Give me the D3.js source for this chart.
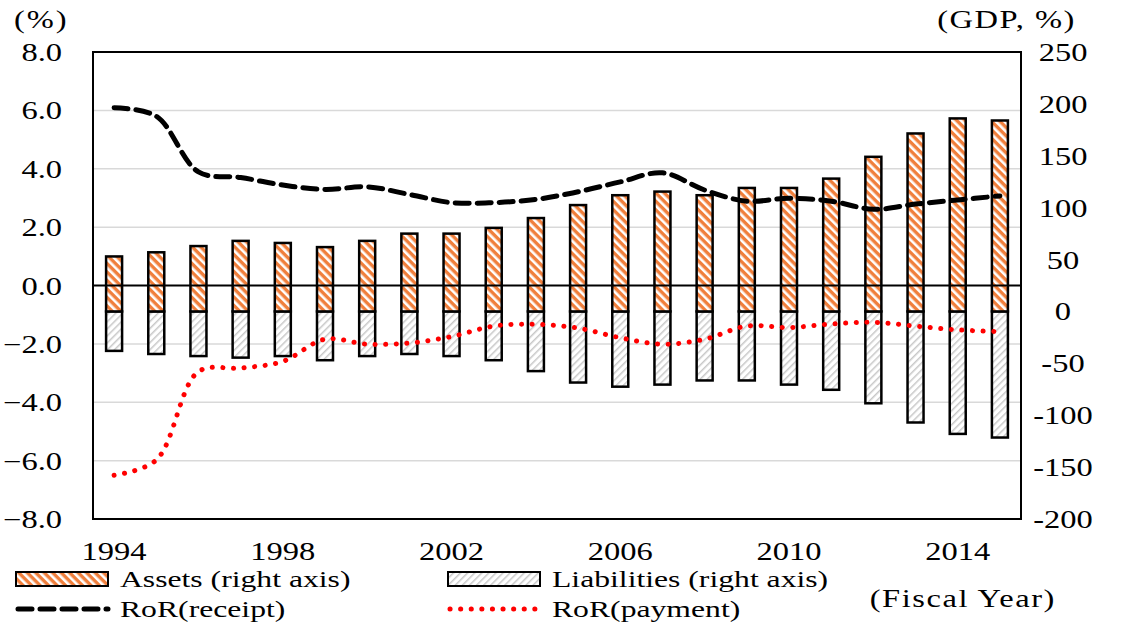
<!DOCTYPE html>
<html>
<head>
<meta charset="utf-8">
<script src="https://cdn.jsdelivr.net/npm/d3@7"></script>
<style>
  body { margin: 0; background: #fff; }
  svg text { font-family: "Liberation Serif", "Times New Roman", serif; fill: #000; }
</style>
</head>
<body>
<div id="chart"></div>
<script>
const years = d3.range(1994, 2016);
const yearTicks = [1994, 1998, 2002, 2006, 2010, 2014];

// right axis, % of GDP
const assets = [53, 57, 63, 68, 66, 62, 68, 75, 75, 80.5, 90, 102.5, 112, 115.5, 112, 119, 119, 128, 149, 171.5, 186, 184];
const liabilities = [-38, -41, -43, -44.5, -43, -47, -43, -41, -43, -47, -57.5, -68.5, -72.5, -70.5, -66.5, -66.5, -70.5, -75.5, -88.5, -107, -118, -121.5];

// left axis, %
const rorReceipt = [6.09, 5.8, 3.89, 3.7, 3.44, 3.29, 3.38, 3.12, 2.84, 2.84, 2.95, 3.21, 3.55, 3.86, 3.27, 2.89, 2.99, 2.89, 2.61, 2.79, 2.93, 3.07];
const rorPayment = [-6.5, -5.98, -2.95, -2.83, -2.6, -1.84, -2.01, -1.97, -1.75, -1.39, -1.33, -1.46, -1.79, -2.01, -1.84, -1.39, -1.44, -1.32, -1.26, -1.39, -1.52, -1.58];

const leftTicks = d3.range(-8, 8.1, 2);
const rightTicks = d3.range(-200, 251, 50);

const W = 1127, H = 622;
const margin = { top: 52, right: 106, bottom: 103, left: 93 };
const width = W - margin.left - margin.right,
      height = H - margin.top - margin.bottom;

// the reference type is stretched sideways
const SX = 1.3;

const svg = d3.select("#chart")
    .append("svg")
    .attr("width", W)
    .attr("height", H);

function label(parent, x, y, txt, anchor, size, sx, spacing) {
    return parent.append("text")
        .attr("transform", `translate(${x},${y}) scale(${sx || SX},1)`)
        .attr("text-anchor", anchor || "start")
        .attr("font-size", size || 24)
        .attr("letter-spacing", spacing || 0)
        .text(txt);
}

const defs = svg.append("defs");
const pa = defs.append("pattern")
    .attr("id", "assetsPat")
    .attr("patternUnits", "userSpaceOnUse")
    .attr("width", 6).attr("height", 6)
    .attr("patternTransform", "rotate(45)");
pa.append("rect").attr("width", 6).attr("height", 6).attr("fill", "#fff");
pa.append("rect").attr("width", 6).attr("height", 3.4).attr("fill", "#f07f3c");

const pl = defs.append("pattern")
    .attr("id", "liabPat")
    .attr("patternUnits", "userSpaceOnUse")
    .attr("width", 5).attr("height", 5)
    .attr("patternTransform", "rotate(-45)");
pl.append("rect").attr("width", 5).attr("height", 5).attr("fill", "#fff");
pl.append("rect").attr("width", 5).attr("height", 1.5).attr("fill", "#c8c8c8");

const g = svg.append("g")
    .attr("transform", `translate(${margin.left},${margin.top})`);

const x = d3.scaleBand()
    .domain(years)
    .range([0, width]);

const yL = d3.scaleLinear().domain([-8, 8]).range([height, 0]);
const yR = d3.scaleLinear().domain([-200, 250]).range([height, 0]);

// gridlines
g.append("g")
    .selectAll("line")
    .data(leftTicks.filter(d => d !== 0 && d !== 8 && d !== -8))
    .join("line")
    .attr("x1", 0).attr("x2", width)
    .attr("y1", d => yL(d)).attr("y2", d => yL(d))
    .attr("stroke", "#d9d9d9")
    .attr("stroke-width", 1.5);

const barW = 16;

g.append("g")
    .selectAll("rect")
    .data(years)
    .join("rect")
    .attr("x", d => x(d) + x.bandwidth() / 2 - barW / 2)
    .attr("width", barW)
    .attr("y", yR(0))
    .attr("height", (d, i) => yR(liabilities[i]) - yR(0))
    .attr("fill", "url(#liabPat)")
    .attr("stroke", "#000")
    .attr("stroke-width", 2.5);

g.append("g")
    .selectAll("rect")
    .data(years)
    .join("rect")
    .attr("x", d => x(d) + x.bandwidth() / 2 - barW / 2)
    .attr("width", barW)
    .attr("y", (d, i) => yR(assets[i]))
    .attr("height", (d, i) => yR(0) - yR(assets[i]))
    .attr("fill", "url(#assetsPat)")
    .attr("stroke", "#000")
    .attr("stroke-width", 2.5);

// zero line of left axis
g.append("line")
    .attr("x1", 0).attr("x2", width)
    .attr("y1", yL(0)).attr("y2", yL(0))
    .attr("stroke", "#000")
    .attr("stroke-width", 1.8);

const line = d3.line()
    .x((d, i) => x(years[i]) + x.bandwidth() / 2)
    .y(d => yL(d))
    .curve(d3.curveCatmullRom.alpha(0.5));

g.append("path")
    .datum(rorReceipt)
    .attr("fill", "none")
    .attr("stroke", "#000")
    .attr("stroke-width", 5)
    .attr("stroke-dasharray", "14 8")
    .attr("stroke-linecap", "round")
    .attr("d", line);

g.append("path")
    .datum(rorPayment)
    .attr("fill", "none")
    .attr("stroke", "#ff0000")
    .attr("stroke-width", 5)
    .attr("stroke-dasharray", "0.1 10.5")
    .attr("stroke-linecap", "round")
    .attr("d", line);

// plot border
g.append("rect")
    .attr("width", width).attr("height", height)
    .attr("fill", "none")
    .attr("stroke", "#000")
    .attr("stroke-width", 2);

// left axis labels
leftTicks.forEach(d => {
    label(g, -31, yL(d) + 9, d3.format(".1f")(d), "end", 25);
});

// right axis labels
rightTicks.forEach(d => {
    label(g, width + 42, yR(d) + 9, d, "middle", 25);
});

// x labels
yearTicks.forEach(d => {
    label(g, x(d) + x.bandwidth() / 2, height + 41, d, "middle", 25);
});

label(svg, 14, 28, "(%)", "start", 25, SX, 1.5);
label(svg, 1076, 28, "(GDP, %)", "end", 25, SX, 1.2);
label(svg, 1056, 607, "(Fiscal Year)", "end", 25, SX, 1.2);

// legend
const legend = svg.append("g");
const items = [
    { label: "Assets (right axis)", type: "bar", fill: "url(#assetsPat)", x: 16, y: 579 },
    { label: "Liabilities (right axis)", type: "bar", fill: "url(#liabPat)", x: 448, y: 579 },
    { label: "RoR(receipt)", type: "dash", x: 16, y: 609 },
    { label: "RoR(payment)", type: "dot", x: 448, y: 609 }
];
items.forEach(it => {
    if (it.type === "bar") {
        legend.append("rect")
            .attr("x", it.x).attr("y", it.y - 7)
            .attr("width", 92).attr("height", 14)
            .attr("fill", it.fill)
            .attr("stroke", "#000")
            .attr("stroke-width", 2);
    } else {
        legend.append("line")
            .attr("x1", it.x + 2).attr("x2", it.x + 92)
            .attr("y1", it.y).attr("y2", it.y)
            .attr("stroke", it.type === "dash" ? "#000" : "#ff0000")
            .attr("stroke-width", 5)
            .attr("stroke-linecap", "round")
            .attr("stroke-dasharray", it.type === "dash" ? "14 8" : "0.1 10.5");
    }
    label(legend, it.x + 104, it.y + 8, it.label, "start", 24, 1.32, 0);
});
</script>
</body>
</html>
